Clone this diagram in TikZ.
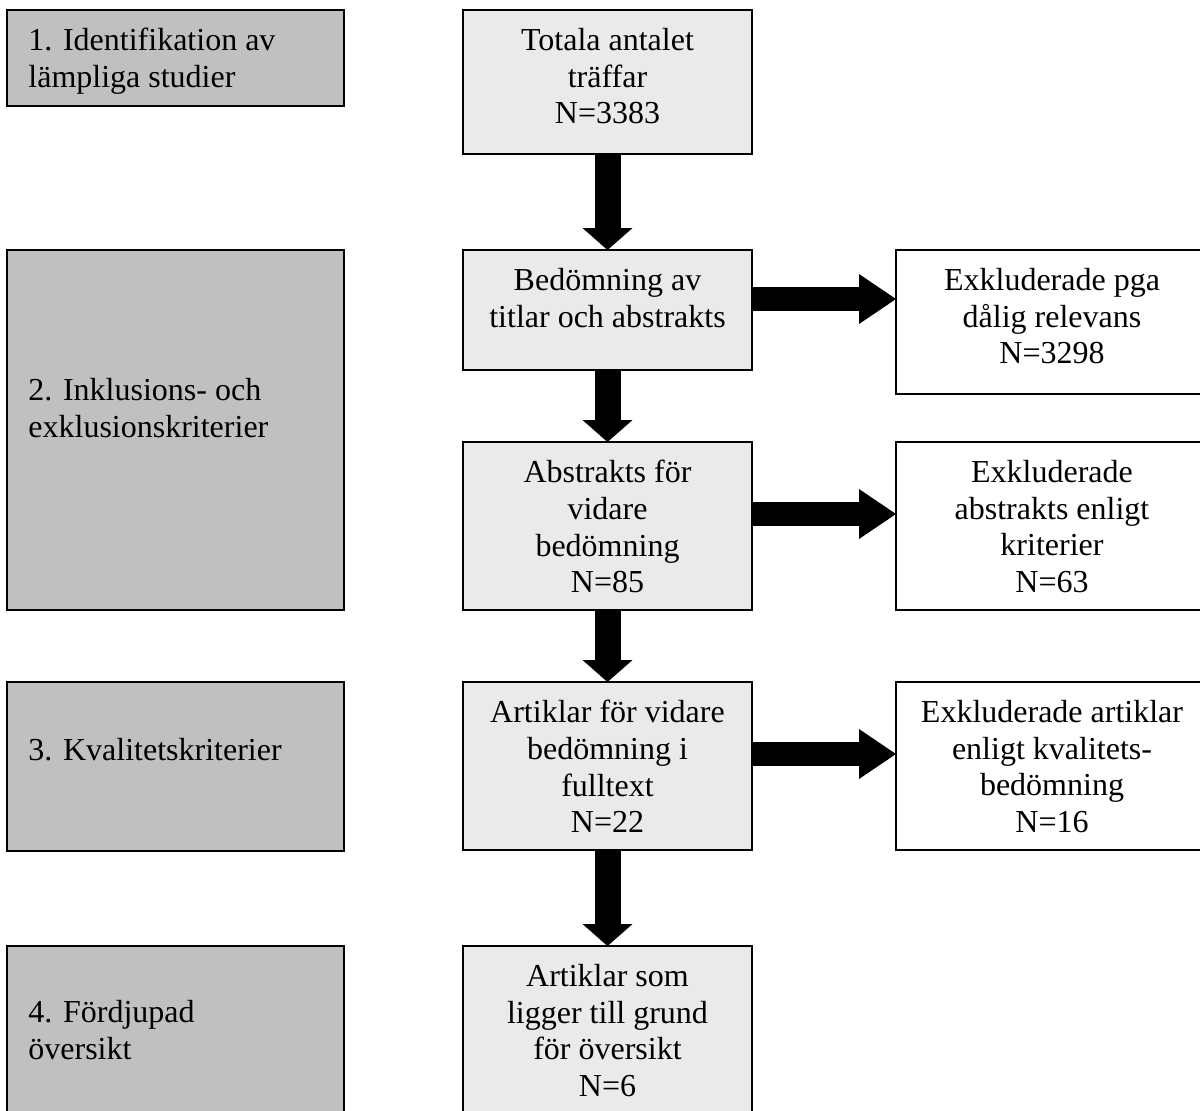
\documentclass[tikz,border=0pt]{standalone}
\usepackage{fontspec}
\setmainfont{Liberation Serif}
\usetikzlibrary{fit,arrows.meta}
\definecolor{phasegray}{HTML}{C0C0C0}
\definecolor{stepgray}{HTML}{EAEAEA}
\begin{document}
\begin{tikzpicture}[x=0.5pt, y=-0.5pt,
    box/.style={draw=black, line width=0.55pt, inner sep=0pt, outer sep=0pt},
    phasebox/.style={box, fill=phasegray},
    stepbox/.style={box, fill=stepgray},
    exclbox/.style={box, fill=white},
    txt/.style={inner sep=0pt, font=\fontsize{16}{18.3}\selectfont},
    midtxt/.style={txt, align=center, anchor=north},
    sidetxt/.style={txt, align=left, anchor=north west},
    downarrow/.style={line width=13pt, -{Triangle[width=25pt, length=11pt, line width=0pt]}},
    rightarrow/.style={line width=12.25pt, -{Triangle[width=25pt, length=18.5pt, line width=0pt]}}]
  \useasboundingbox (0,0) rectangle (1200,1110);
  \clip (0,0) rectangle (1200,1110);

  % phases, left column
  \node[phasebox, fit={(7,10) (344,106)}] (phase1) {};
  \node[phasebox, fit={(7,250) (344,610)}] (phase2) {};
  \node[phasebox, fit={(7,682) (344,851)}] (phase3) {};
  \node[phasebox, fit={(7,946) (344,1140)}] (phase4) {};
  \node[sidetxt] (phase1-txt) at ([shift={(10.5pt,-9pt)}]phase1.north west) {1. Identifikation av\\lämpliga studier};
  \node[sidetxt] (phase2-txt) at ([shift={(10.5pt,-64pt)}]phase2.north west) {2. Inklusions- och\\exklusionskriterier};
  \node[sidetxt] (phase3-txt) at ([shift={(10.5pt,-28pt)}]phase3.north west) {3. Kvalitetskriterier};
  \node[sidetxt] (phase4-txt) at ([shift={(10.5pt,-27pt)}]phase4.north west) {4. Fördjupad\\översikt};

  % steps, middle column
  \node[stepbox, fit={(463,10) (752,154)}] (total) {};
  \node[stepbox, fit={(463,250) (752,370)}] (titles) {};
  \node[stepbox, fit={(463,442) (752,610)}] (abstracts) {};
  \node[stepbox, fit={(463,682) (752,850)}] (fulltext) {};
  \node[stepbox, fit={(463,946) (752,1140)}] (included) {};
  \node[midtxt] (total-txt) at ([yshift=-9pt]total.north) {Totala antalet\\träffar\\N=3383};
  \node[midtxt] (titles-txt) at ([yshift=-9pt]titles.north) {Bedömning av\\titlar och abstrakts};
  \node[midtxt] (abstracts-txt) at ([yshift=-9pt]abstracts.north) {Abstrakts för\\vidare\\bedömning\\N=85};
  \node[midtxt] (fulltext-txt) at ([yshift=-9pt]fulltext.north) {Artiklar för vidare\\bedömning i\\fulltext\\N=22};
  \node[midtxt] (included-txt) at ([yshift=-9pt]included.north) {Artiklar som\\ligger till grund\\för översikt\\N=6};

  % excluded, right column
  \node[exclbox, fit={(896,250) (1208,394)}] (excl1) {};
  \node[exclbox, fit={(896,442) (1208,610)}] (excl2) {};
  \node[exclbox, fit={(896,682) (1208,850)}] (excl3) {};
  \node[midtxt] (excl1-txt) at ([yshift=-9pt]excl1.north) {Exkluderade pga\\dålig relevans\\N=3298};
  \node[midtxt] (excl2-txt) at ([yshift=-9pt]excl2.north) {Exkluderade\\abstrakts enligt\\kriterier\\N=63};
  \node[midtxt] (excl3-txt) at ([yshift=-9pt]excl3.north) {Exkluderade artiklar\\enligt kvalitets-\\bedömning\\N=16};

  % arrows
  \draw[downarrow] (total) -- (titles);
  \draw[downarrow] (titles) -- (abstracts);
  \draw[downarrow] (abstracts) -- (fulltext);
  \draw[downarrow] (fulltext) -- (included);
  \draw[rightarrow] ([yshift=5.5pt]titles.east) -- ([yshift=5.5pt]titles.east -| excl1.west);
  \draw[rightarrow] ([yshift=6pt]abstracts.east) -- ([yshift=6pt]abstracts.east -| excl2.west);
  \draw[rightarrow] ([yshift=6pt]fulltext.east) -- ([yshift=6pt]fulltext.east -| excl3.west);
\end{tikzpicture}
\end{document}
